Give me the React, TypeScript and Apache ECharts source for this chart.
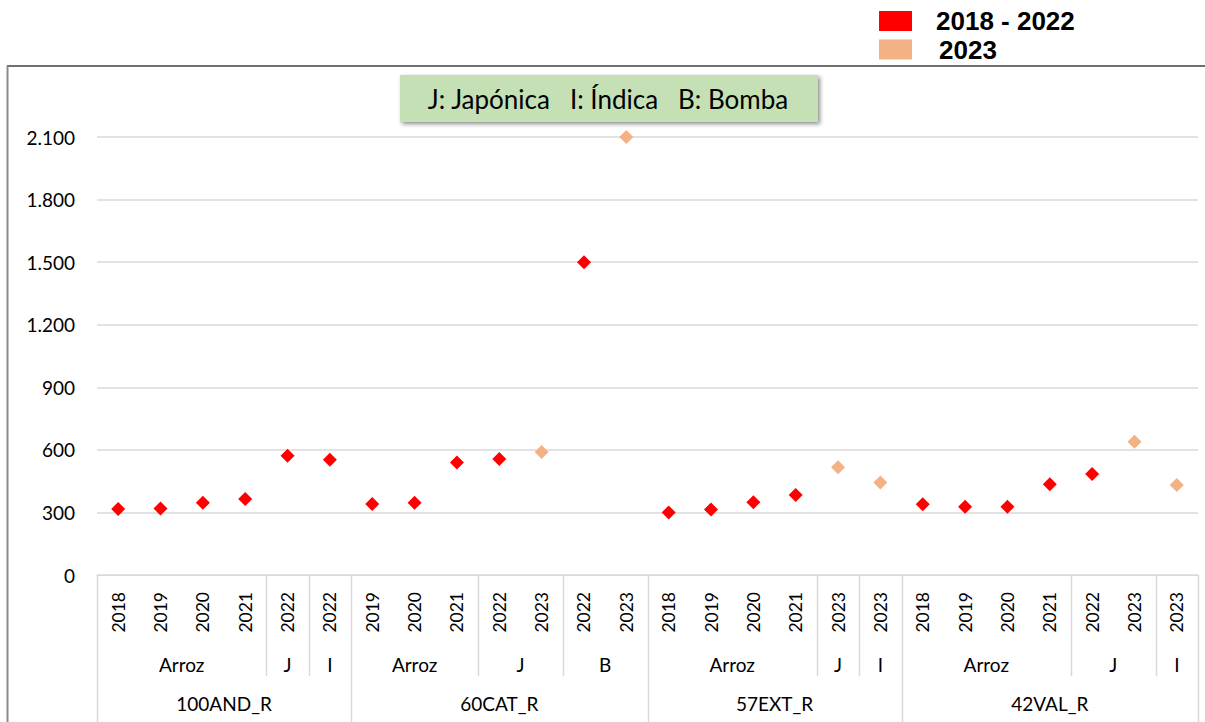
import React, { useEffect, useRef } from "react";
import * as echarts from "echarts";

const years = [
  "2018", "2019", "2020", "2021", "2022", "2022",
  "2019", "2020", "2021", "2022", "2023", "2022", "2023",
  "2018", "2019", "2020", "2021", "2023", "2023",
  "2018", "2019", "2020", "2021", "2022", "2023", "2023",
];
const varieties = [
  "Arroz", "Arroz", "Arroz", "Arroz", "J", "I",
  "Arroz", "Arroz", "Arroz", "J", "J", "B", "B",
  "Arroz", "Arroz", "Arroz", "Arroz", "J", "I",
  "Arroz", "Arroz", "Arroz", "Arroz", "J", "J", "I",
];
const regions = [
  "100AND_R", "100AND_R", "100AND_R", "100AND_R", "100AND_R", "100AND_R",
  "60CAT_R", "60CAT_R", "60CAT_R", "60CAT_R", "60CAT_R", "60CAT_R", "60CAT_R",
  "57EXT_R", "57EXT_R", "57EXT_R", "57EXT_R", "57EXT_R", "57EXT_R",
  "42VAL_R", "42VAL_R", "42VAL_R", "42VAL_R", "42VAL_R", "42VAL_R", "42VAL_R",
];
const values2018to2022: (number | null)[] = [
  316, 319, 346, 364, 572, 552,
  340, 346, 539, 556, null, 1500, null,
  300, 314, 349, 383, null, null,
  339, 327, 327, 435, 484, null, null,
];
const values2023: (number | null)[] = [
  null, null, null, null, null, null,
  null, null, null, null, 590, null, 2100,
  null, null, null, null, 517, 443,
  null, null, null, null, null, 639, 431,
];
const seriesNames = ["2018 - 2022", "2023"];
const noteText = "J: Japónica   I: Índica   B: Bomba";

const FONT = "Lato, 'Noto Sans', sans-serif";
const GRID_LINE = "#D9D9D9";

function toPairs(vals: (number | null)[]) {
  const out: [number, number][] = [];
  vals.forEach((v, i) => {
    if (v !== null) out.push([i, v]);
  });
  return out;
}

function fmt(v: number) {
  return String(v).replace(/\B(?=(\d{3})+(?!\d))/g, ".");
}

const legendItem = (name: string, top: number, textGap: number) => ({
  data: [name],
  orient: "vertical",
  left: 879,
  top,
  padding: 0,
  itemWidth: 33,
  itemHeight: 20,
  icon: "rect",
  textStyle: {
    fontFamily: "'Liberation Sans', Arial, sans-serif",
    fontWeight: "bold",
    fontSize: 26,
    color: "#000",
    padding: [0, 0, 0, textGap],
  },
});

export default function App() {
  const ref = useRef<HTMLDivElement>(null);
  useEffect(() => {
    document.body.style.margin = "0";
    const el = ref.current!;
    const chart = echarts.init(el, null, { renderer: "svg" });
    const gridBottomY = 575;
    chart.setOption({
      animation: false,
      backgroundColor: "#fff",
      grid: { left: 97, right: 7, top: 137, bottom: 722 - gridBottomY },
      legend: [
        legendItem(seriesNames[0], 8, 19),
        legendItem(seriesNames[1], 36.5, 22),
      ],
      xAxis: {
        type: "category",
        data: years,
        boundaryGap: true,
        axisLine: { show: true, lineStyle: { color: GRID_LINE, width: 1 } },
        axisTick: { show: false },
        axisLabel: {
          interval: 0,
          rotate: 90,
          margin: 17,
          fontFamily: FONT,
          fontSize: 17.5,
          color: "#000",
        },
        splitLine: { show: false },
      },
      yAxis: {
        type: "value",
        min: 0,
        max: 2100,
        interval: 300,
        axisLine: { show: false },
        axisTick: { show: false },
        axisLabel: {
          margin: 22,
          fontFamily: FONT,
          fontSize: 19,
          color: "#000",
          formatter: (v: number) => fmt(v),
        },
        splitLine: { show: true, lineStyle: { color: GRID_LINE, width: 1.5 } },
      },
      series: [
        {
          name: seriesNames[0],
          type: "scatter",
          symbol: "diamond",
          symbolSize: 14,
          itemStyle: { color: "#FF0000", opacity: 1 },
          data: toPairs(values2018to2022),
          z: 3,
        },
        {
          name: seriesNames[1],
          type: "scatter",
          symbol: "diamond",
          symbolSize: 14,
          itemStyle: { color: "#F4B183", opacity: 1 },
          data: toPairs(values2023),
          z: 3,
        },
      ],
    });

    // multi-level category labels and separators
    const n = years.length;
    const c0 = chart.convertToPixel({ xAxisIndex: 0 }, 0) as number;
    const c1 = chart.convertToPixel({ xAxisIndex: 0 }, 1) as number;
    const band = c1 - c0;
    const left = (i: number) =>
      (chart.convertToPixel({ xAxisIndex: 0 }, i) as number) - band / 2;
    const g: any[] = [];
    const level2Bottom = 676;
    const level1Bottom = 722;
    for (let i = 0; i <= n; i++) {
      const regionEdge =
        i === 0 || i === n || regions[i] !== regions[i - 1];
      const varEdge = !regionEdge && varieties[i] !== varieties[i - 1];
      if (!regionEdge && !varEdge) continue;
      const x = Math.round(left(i)) + 0.5;
      g.push({
        type: "line",
        shape: { x1: x, y1: gridBottomY, x2: x, y2: regionEdge ? level1Bottom : level2Bottom },
        style: { stroke: GRID_LINE, lineWidth: 1.5 },
        silent: true,
      });
    }
    const addGroups = (arr: string[], keyArr: string[][], y: number) => {
      let start = 0;
      for (let i = 1; i <= n; i++) {
        const changed =
          i === n || keyArr.some((k) => k[i] !== k[i - 1]);
        if (changed) {
          const x = (left(start) + left(i)) / 2;
          g.push({
            type: "text",
            x,
            y,
            style: {
              text: arr[start],
              fontFamily: FONT,
              fontSize: 19,
              fill: "#000",
              align: "center",
              verticalAlign: "middle",
            },
            silent: true,
          });
          start = i;
        }
      }
    };
    addGroups(varieties, [varieties, regions], 664);
    addGroups(regions, [regions], 703);

    g.push({
      type: "line",
      shape: { x1: 7, y1: 66, x2: 1205, y2: 66 },
      style: { stroke: "#404040", lineWidth: 1.5 },
      silent: true,
    });
    g.push({
      type: "line",
      shape: { x1: 7.5, y1: 66, x2: 7.5, y2: 722 },
      style: { stroke: "#8C8C8C", lineWidth: 2 },
      silent: true,
    });
    g.push({
      type: "rect",
      shape: { x: 400, y: 75, width: 418, height: 47 },
      style: {
        fill: "#C5E0B4",
        shadowBlur: 4,
        shadowOffsetX: 2,
        shadowOffsetY: 2,
        shadowColor: "rgba(0,0,0,0.45)",
      },
      z: 10,
      silent: true,
    });
    g.push({
      type: "text",
      x: 608,
      y: 99,
      style: {
        text: noteText,
        fontFamily: FONT,
        fontSize: 26,
        fill: "#000",
        align: "center",
        verticalAlign: "middle",
      },
      z: 11,
      silent: true,
    });
    chart.setOption({ graphic: g });

    return () => chart.dispose();
  }, []);
  return <div ref={ref} style={{ width: 1205, height: 722 }} />;
}
